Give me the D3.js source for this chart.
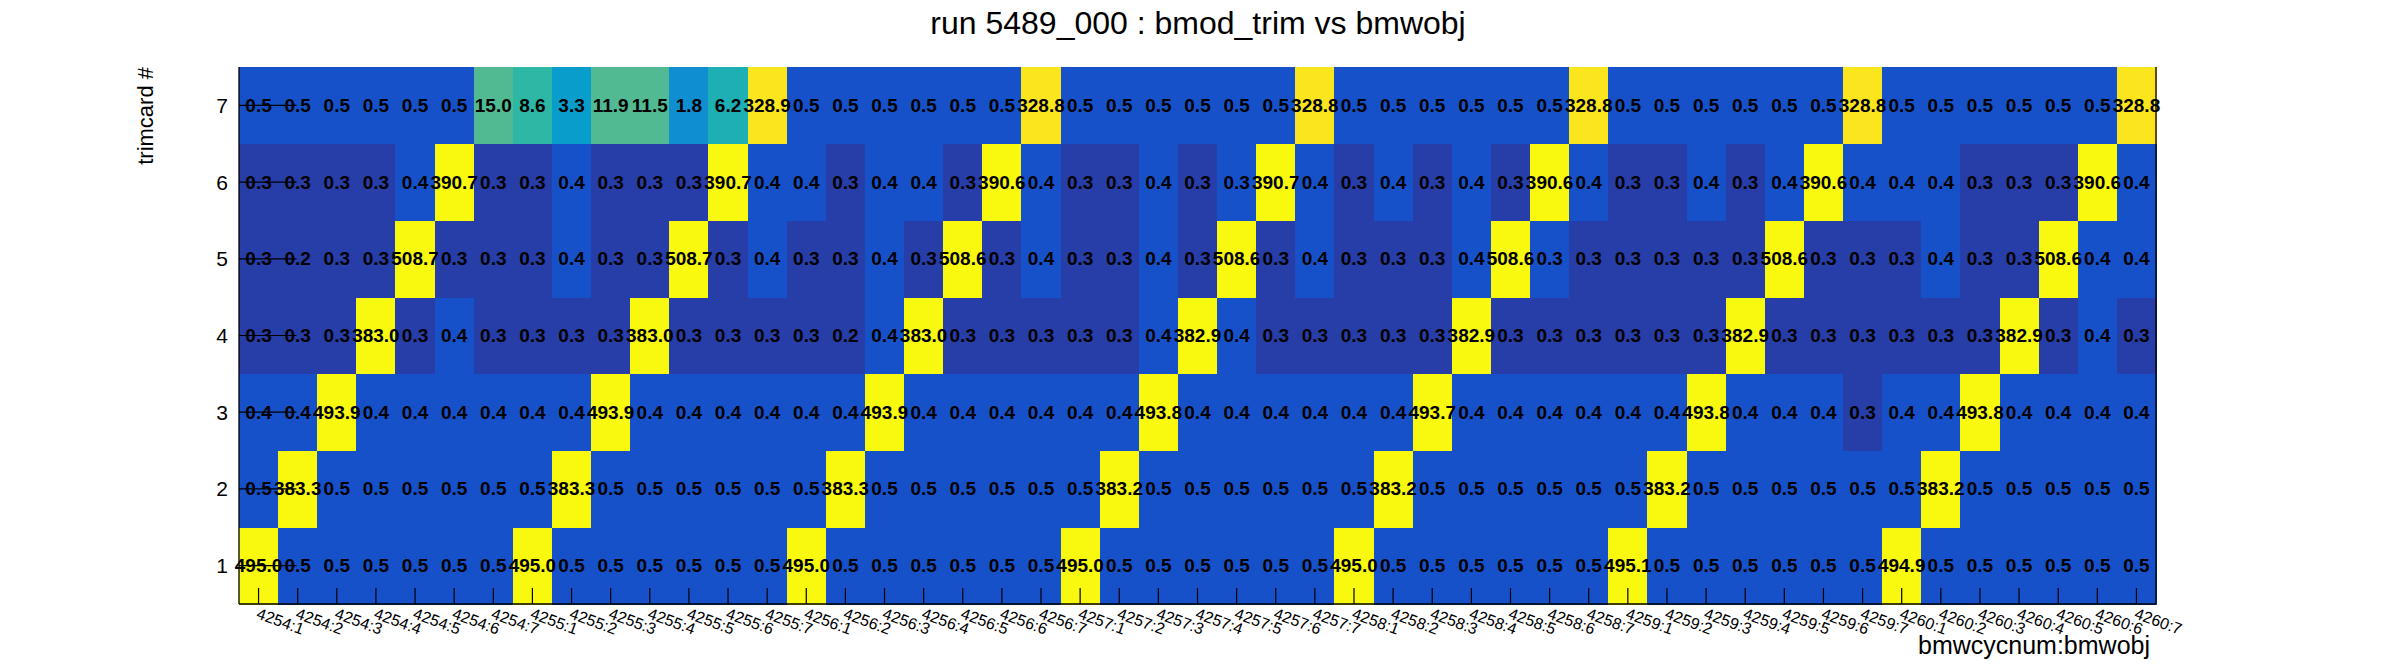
<!DOCTYPE html>
<html><head><meta charset="utf-8">
<script src="https://cdn.jsdelivr.net/npm/d3@7"></script>
<style>body{margin:0;background:#fff}svg{display:block}</style>
</head><body><svg id="c" width="2396" height="672"></svg>
<script>
// ---------- data ----------
const title = "run 5489_000 : bmod_trim vs bmwobj";
const xTitle = "bmwcycnum:bmwobj";
const yTitle = "trimcard #";
const cycles = [4254, 4255, 4256, 4257, 4258, 4259, 4260];
const objs = [1, 2, 3, 4, 5, 6, 7];
const xLabels = cycles.flatMap(c => objs.map(o => c + ":" + o));
const trimcards = [1, 2, 3, 4, 5, 6, 7];

const trim1 = [495.0,0.5,0.5,0.5,0.5,0.5,0.5, 495.0,0.5,0.5,0.5,0.5,0.5,0.5, 495.0,0.5,0.5,0.5,0.5,0.5,0.5,
               495.0,0.5,0.5,0.5,0.5,0.5,0.5, 495.0,0.5,0.5,0.5,0.5,0.5,0.5, 495.1,0.5,0.5,0.5,0.5,0.5,0.5,
               494.9,0.5,0.5,0.5,0.5,0.5,0.5];
const trim2 = [0.5,383.3,0.5,0.5,0.5,0.5,0.5, 0.5,383.3,0.5,0.5,0.5,0.5,0.5, 0.5,383.3,0.5,0.5,0.5,0.5,0.5,
               0.5,383.2,0.5,0.5,0.5,0.5,0.5, 0.5,383.2,0.5,0.5,0.5,0.5,0.5, 0.5,383.2,0.5,0.5,0.5,0.5,0.5,
               0.5,383.2,0.5,0.5,0.5,0.5,0.5];
const trim3 = [0.4,0.4,493.9,0.4,0.4,0.4,0.4, 0.4,0.4,493.9,0.4,0.4,0.4,0.4, 0.4,0.4,493.9,0.4,0.4,0.4,0.4,
               0.4,0.4,493.8,0.4,0.4,0.4,0.4, 0.4,0.4,493.7,0.4,0.4,0.4,0.4, 0.4,0.4,493.8,0.4,0.4,0.4,0.3,
               0.4,0.4,493.8,0.4,0.4,0.4,0.4];
const trim4 = [0.3,0.3,0.3,383.0,0.3,0.4,0.3, 0.3,0.3,0.3,383.0,0.3,0.3,0.3, 0.3,0.2,0.4,383.0,0.3,0.3,0.3,
               0.3,0.3,0.4,382.9,0.4,0.3,0.3, 0.3,0.3,0.3,382.9,0.3,0.3,0.3, 0.3,0.3,0.3,382.9,0.3,0.3,0.3,
               0.3,0.3,0.3,382.9,0.3,0.4,0.3];
const trim5 = [0.3,0.2,0.3,0.3,508.7,0.3,0.3, 0.3,0.4,0.3,0.3,508.7,0.3,0.4, 0.3,0.3,0.4,0.3,508.6,0.3,0.4,
               0.3,0.3,0.4,0.3,508.6,0.3,0.4, 0.3,0.3,0.3,0.4,508.6,0.348,0.3, 0.3,0.3,0.3,0.3,508.6,0.3,0.3,
               0.3,0.4,0.3,0.3,508.6,0.4,0.4];
const trim6 = [0.3,0.3,0.3,0.3,0.4,390.7,0.3, 0.3,0.4,0.3,0.3,0.3,390.7,0.4, 0.4,0.3,0.4,0.4,0.3,390.6,0.4,
               0.3,0.3,0.4,0.3,0.348,390.7,0.4, 0.3,0.4,0.3,0.4,0.3,390.6,0.4, 0.3,0.3,0.4,0.3,0.4,390.6,0.4,
               0.4,0.4,0.3,0.3,0.3,390.6,0.4];
const trim7 = [0.5,0.5,0.5,0.5,0.5,0.5,15.0, 8.6,3.3,11.9,11.5,1.8,6.2,328.9, 0.5,0.5,0.5,0.5,0.5,0.5,328.8,
               0.5,0.5,0.5,0.5,0.5,0.5,328.8, 0.5,0.5,0.5,0.5,0.5,0.5,328.8, 0.5,0.5,0.5,0.5,0.5,0.5,328.8,
               0.5,0.5,0.5,0.5,0.5,0.5,328.8];
const rowsData = [trim1, trim2, trim3, trim4, trim5, trim6, trim7];

// z range and palette (ROOT kBird, 20 contour levels, log z)
const zRange = [0.235, 508.7];
const nLevels = 20;
const birdStops = [0, 0.125, 0.25, 0.375, 0.5, 0.625, 0.75, 0.875, 1];
const birdR = [0.2082, 0.0592, 0.0780, 0.0232, 0.1802, 0.5301, 0.8186, 0.9956, 0.9764];
const birdG = [0.1664, 0.3599, 0.5041, 0.6419, 0.7178, 0.7492, 0.7328, 0.7862, 0.9832];
const birdB = [0.5293, 0.8684, 0.8385, 0.7914, 0.6425, 0.4662, 0.3499, 0.1968, 0.0539];

// ---------- layout ----------
const W = 2396, H = 672;
const m = {left: 239, right: 2156, top: 67, bottom: 604};
const FONT = "'Liberation Sans', Arial, Helvetica, sans-serif";

const svg = d3.select("#c");
svg.append("rect").attr("width", W).attr("height", H).attr("fill", "#fff");

const x = d3.scaleBand().domain(xLabels).range([m.left, m.right]).paddingInner(0).paddingOuter(0);
const y = d3.scaleBand().domain(trimcards.slice().reverse()).range([m.top, m.bottom]);

const birdColors = birdStops.map((s, i) => d3.rgb(birdR[i] * 255, birdG[i] * 255, birdB[i] * 255).toString());
const palette = d3.scaleLinear().domain(birdStops).range(birdColors).interpolate(d3.interpolateRgb);
const zScale = d3.scaleLog().domain(zRange).range([0, 1]).clamp(true);
function colorOf(v) {
  let lev = Math.floor(zScale(v) * nLevels + 1e-9);
  lev = Math.max(0, Math.min(nLevels - 1, lev));
  const ci = Math.floor((lev + 0.99) * 255 / nLevels);
  return palette(ci / 255);
}

const cells = [];
rowsData.forEach((arr, r) => arr.forEach((v, c) => cells.push({tc: trimcards[r], xl: xLabels[c], v})));

svg.append("g").selectAll("rect").data(cells).join("rect")
  .attr("x", d => x(d.xl)).attr("y", d => y(d.tc))
  .attr("width", x.bandwidth() + 0.5).attr("height", y.bandwidth() + 0.5)
  .attr("fill", d => colorOf(d.v)).attr("shape-rendering", "crispEdges");

const fmt = d3.format(".1f");
svg.append("g").selectAll("text").data(cells).join("text")
  .attr("x", d => x(d.xl) + x.bandwidth() / 2)
  .attr("y", d => y(d.tc) + y.bandwidth() / 2)
  .attr("text-anchor", "middle").attr("dominant-baseline", "central")
  .attr("font-family", FONT).attr("font-weight", "bold").attr("font-size", 19)
  .attr("fill", "#000")
  .text(d => fmt(d.v));

// ---------- axes ----------
const ax = svg.append("g").attr("stroke", "#000").attr("stroke-width", 1.3).attr("fill", "none");
ax.append("line").attr("x1", m.left).attr("x2", m.left).attr("y1", m.top).attr("y2", m.bottom);
ax.append("line").attr("x1", m.left).attr("x2", m.right).attr("y1", m.bottom).attr("y2", m.bottom);
ax.append("line").attr("x1", m.right).attr("x2", m.right).attr("y1", m.top).attr("y2", m.bottom);

const xTickLen = 0.03 * (m.bottom - m.top);
const yTickLen = 0.03 * (m.right - m.left);

svg.append("g").selectAll("line").data(xLabels).join("line")
  .attr("x1", d => x(d) + x.bandwidth() / 2).attr("x2", d => x(d) + x.bandwidth() / 2)
  .attr("y1", m.bottom).attr("y2", m.bottom - xTickLen)
  .attr("stroke", "#000").attr("stroke-width", 1.2);

svg.append("g").selectAll("line").data(trimcards).join("line")
  .attr("x1", m.left).attr("x2", m.left + yTickLen)
  .attr("y1", d => y(d) + y.bandwidth() / 2).attr("y2", d => y(d) + y.bandwidth() / 2)
  .attr("stroke", "#000").attr("stroke-width", 1.2);

svg.append("g").selectAll("text").data(trimcards).join("text")
  .attr("x", m.left - 11).attr("y", d => y(d) + y.bandwidth() / 2)
  .attr("text-anchor", "end").attr("dominant-baseline", "central")
  .attr("font-family", FONT).attr("font-size", 21).attr("fill", "#000")
  .text(d => d);

svg.append("g").selectAll("text").data(xLabels).join("text")
  .attr("transform", d => `translate(${x(d) + x.bandwidth() / 2 - 3},${m.bottom + 14}) rotate(20)`)
  .attr("text-anchor", "start")
  .attr("font-family", FONT).attr("font-size", 16).attr("fill", "#000")
  .text(d => d);

svg.append("text").attr("x", m.right - 6).attr("y", 654)
  .attr("text-anchor", "end").attr("font-family", FONT).attr("font-size", 25).attr("fill", "#000")
  .text(xTitle);

svg.append("text").attr("transform", `translate(153,${m.top}) rotate(-90)`)
  .attr("text-anchor", "end").attr("font-family", FONT).attr("font-size", 22).attr("fill", "#000")
  .text(yTitle);

svg.append("text").attr("x", W / 2).attr("y", 34)
  .attr("text-anchor", "middle").attr("font-family", FONT).attr("font-size", 32).attr("fill", "#000")
  .text(title);
</script></body></html>
